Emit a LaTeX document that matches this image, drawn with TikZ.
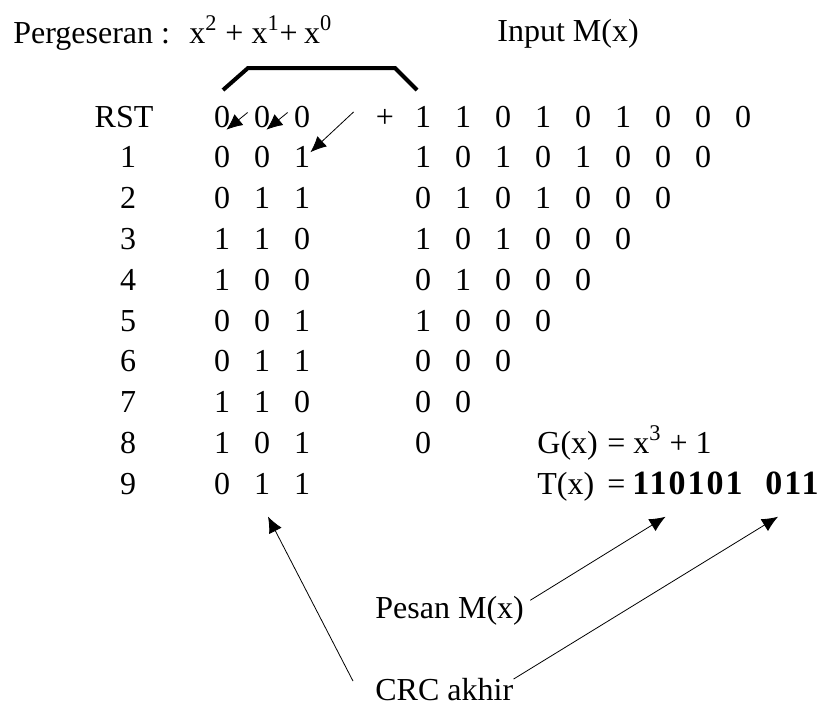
\documentclass[tikz,border=0pt]{standalone}
\usepackage{fontspec}
\setmainfont{Liberation Serif}
\usetikzlibrary{arrows.meta}

\tikzset{
  bit/.style={inner sep=0pt, anchor=base, font=\fontsize{16}{19}\selectfont},
  txt/.style={inner sep=0pt, anchor=base west, font=\fontsize{16}{19}\selectfont},
  code/.style={txt, font=\fontsize{17}{19}\selectfont\bfseries\addfontfeatures{LetterSpace=6}},
  ptr/.style={-{Latex[length=8pt,width=7pt]}, thin},
}

\begin{document}
\begin{tikzpicture}[x=0.5pt,y=-0.5pt]
  \useasboundingbox (0,0) rectangle (826,709);

  % headings
  \node[txt] (title) at (13,43) {Pergeseran :\hspace{0.6em}x\textsuperscript{2} +\hspace{0.25em}x\textsuperscript{1}+\hspace{0.2em}x\textsuperscript{0}};
  \node[txt] (input) at (497,41) {Input M(x)};
  \draw[line width=2pt] (223,90) -- (248,68) -- (395,68) -- (417,90);

  % row labels
  \node[bit] (lab0) at (124,127) {RST};
  \foreach \n in {1,...,9}
    \node[bit] (lab\n) at (128,127+40.8*\n) {\n};

  % shift register
  \foreach \a/\b/\c [count=\r from 0] in {0/0/0,0/0/1,0/1/1,1/1/0,1/0/0,0/0/1,0/1/1,1/1/0,1/0/1,0/1/1} {
    \node[bit] (r\r-1) at (222,127+40.8*\r) {\a};
    \node[bit] (r\r-2) at (262,127+40.8*\r) {\b};
    \node[bit] (r\r-3) at (302,127+40.8*\r) {\c};
  }

  % input bits
  \node[bit] (plus) at (385,127) {+};
  \foreach \bits [count=\r from 0] in {{1,1,0,1,0,1,0,0,0},{1,0,1,0,1,0,0,0},{0,1,0,1,0,0,0},
      {1,0,1,0,0,0},{0,1,0,0,0},{1,0,0,0},{0,0,0},{0,0},{0}} {
    \foreach \b [count=\c] in \bits
      \node[bit] (in\r-\c) at (423+40*\c-40,127+40.8*\r) {\b};
  }

  % generator and codeword
  \node[txt] (glbl) at (537,453) {G(x)};
  \node[txt] (geq) at (607,453) {= x\textsuperscript{3} + 1};
  \node[txt] (tlbl) at (537,494) {T(x)};
  \node[txt] (teq) at (607,494) {=};
  \node[code] (msg) at (632,494) {110101};
  \node[code] (crcbits) at (765,494) {011};

  \node[txt] (pesan) at (375,618) {Pesan M(x)};
  \node[txt] (crc) at (375,700) {CRC akhir};

  % shifts
  \draw[ptr] ([xshift=-3pt,yshift=2pt]r0-2.west) -- ([xshift=-2pt,yshift=-1pt]r0-1.south east);
  \draw[ptr] ([xshift=-3pt,yshift=2pt]r0-3.west) -- ([xshift=-2pt,yshift=-1pt]r0-2.south east);
  \draw[ptr] ([xshift=-11pt,yshift=3pt]plus.west) -- ([yshift=2.5pt]r1-3.east);

  % pointers
  \draw[ptr] ([xshift=3pt,yshift=5pt]pesan.east) -- ([xshift=-11pt,yshift=-11pt]msg.south);
  \draw[ptr] ([yshift=5pt]crc.east) -- ([xshift=-7pt,yshift=-11pt]crcbits.south);
  \draw[ptr] ([xshift=-11pt,yshift=4pt]crc.west) -- ([xshift=3pt,yshift=-11pt]r9-2.south);
\end{tikzpicture}
\end{document}
